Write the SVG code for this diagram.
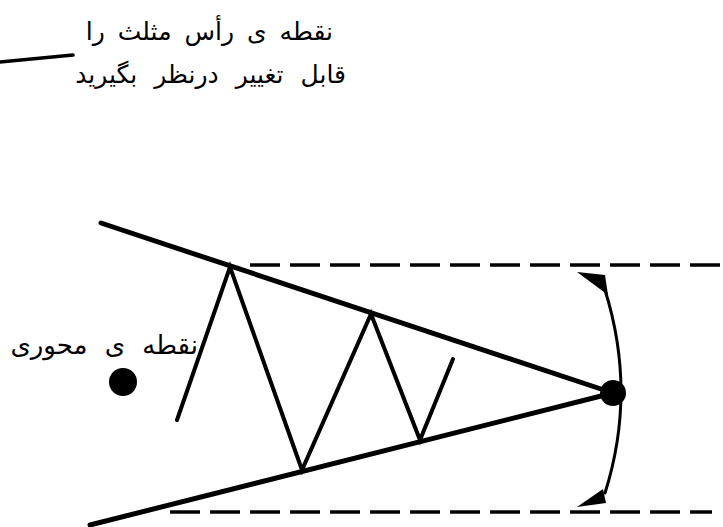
<svg xmlns="http://www.w3.org/2000/svg" width="723" height="527" viewBox="0 0 723 527">
<style>
.t{font-family:"DejaVu Sans","Noto Sans",sans-serif;font-size:25px;fill:#000}
.ln{stroke:#000;fill:none;stroke-linecap:round;stroke-linejoin:miter}
.dash{stroke:#000;fill:none;stroke-width:3.5;stroke-dasharray:30 10}
</style>
<rect width="723" height="527" fill="#fff"/>
<g id="connectors">
<line class="ln" x1="0" y1="62" x2="73" y2="55" stroke-width="3.5"/>
<line class="dash" x1="250" y1="265" x2="723" y2="265"/>
<line class="dash" x1="170" y1="512" x2="712" y2="512"/>
<line class="ln" x1="101" y1="223" x2="613" y2="393" stroke-width="5"/>
<line class="ln" x1="90" y1="525" x2="613" y2="393" stroke-width="5"/>
<polyline class="ln" points="177,420 230,267 302,470 371,314 420,440 453,359" stroke-width="4"/>
<path class="ln" d="M605,290 Q637,392 605,493" stroke-width="3"/>
<path d="M577,272 L605,275 L608,295 z" fill="#000"/>
<path d="M577,507 L603,489 L606,503 z" fill="#000"/>
</g>
<g id="apex"><circle cx="613" cy="393" r="13" fill="#000"/></g>
<g id="pivot"><circle cx="123" cy="382" r="14" fill="#000"/></g>
<g id="label-top">
<text class="t" x="333" y="40" text-anchor="end" style="word-spacing:5px">نقطه ی رأس مثلث را</text>
<text class="t" x="346" y="83" text-anchor="end" style="word-spacing:9px">قابل تغییر درنظر بگیرید</text>
</g>
<g id="label-pivot">
<text class="t" x="198" y="354" text-anchor="end" style="font-size:26px;word-spacing:9px">نقطه ی محوری</text>
</g>
</svg>
